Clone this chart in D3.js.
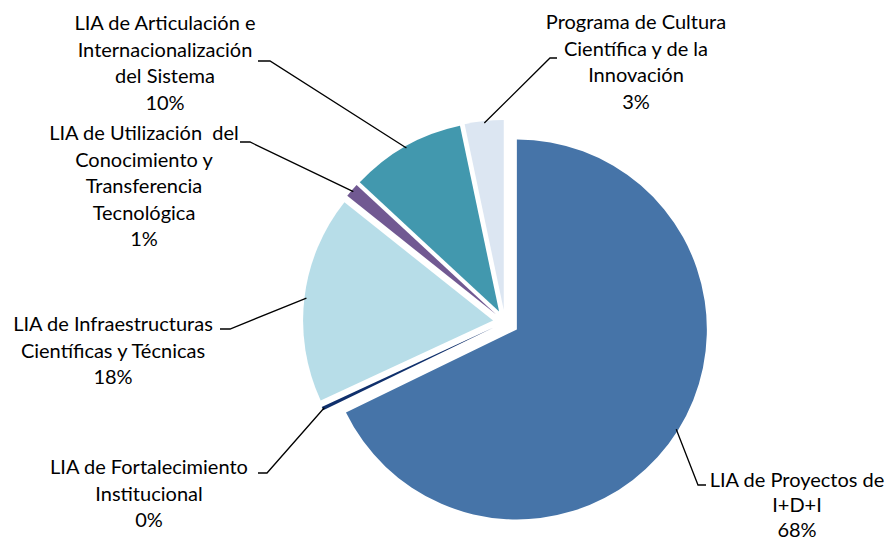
<!DOCTYPE html>
<html>
<head>
<meta charset="utf-8">
<script src="https://cdn.jsdelivr.net/npm/d3@7"></script>
<style>
  body { margin: 0; background: #fff; }
  text { font-family: Lato, "Open Sans", sans-serif; font-size: 20px; fill: #000; white-space: pre; }
</style>
</head>
<body>
<div id="chart"></div>
<script>
var width = 889, height = 543;

// data (clockwise from 12 o'clock)
var categories = [
  "LIA de Proyectos de I+D+I",
  "LIA de Fortalecimiento Institucional",
  "LIA de Infraestructuras Científicas y Técnicas",
  "LIA de Utilización  del Conocimiento y Transferencia Tecnológica",
  "LIA de Articulación e Internacionalización del Sistema",
  "Programa de Cultura Científica y de la Innovación"
];
var values = [67.8, 0.3, 17.6, 1.2, 9.8, 3.3];
var labelLines = [
  ["LIA de Proyectos de", "I+D+I"],
  ["LIA de Fortalecimiento", "Institucional"],
  ["LIA de Infraestructuras", "Científicas y Técnicas"],
  ["LIA de Utilización  del", "Conocimiento y", "Transferencia", "Tecnológica"],
  ["LIA de Articulación e", "Internacionalización", "del Sistema"],
  ["Programa de Cultura", "Científica y de la", "Innovación"]
];
var colors = ["#4674a8", "#10306c", "#b7dde8", "#715992", "#4298ae", "#dce6f2"];

// layout
var cx = 505, cy = 322, radius = 190;
var explode = [14, 12, 12, 12, 12, 12];
var lineH = 26.5;
// label block centre x, first baseline y, line step, elbow point, end of short horizontal
var labelPos = [
  {x: 797, y: 487, step: 25, elbow: [698, 485], end: [706, 485]},
  {x: 149, y: 474, step: lineH, elbow: [267, 473], end: [258, 473]},
  {x: 113, y: 331, step: lineH, elbow: [230, 329], end: [220, 329]},
  {x: 144, y: 140, step: lineH, elbow: [250, 142], end: [240, 142]},
  {x: 165, y: 30,  step: lineH, elbow: [270, 61],  end: [258, 61]},
  {x: 636, y: 29,  step: lineH, elbow: [550, 58],  end: [557, 58]}
];

var svg = d3.select("#chart")
  .append("svg")
  .attr("width", width)
  .attr("height", height);

var pie = d3.pie().sort(null).value(function(d){ return d; });
var arcs = pie(values);

var arc = d3.arc().innerRadius(0).outerRadius(radius);

function dir(a) { return [Math.sin(a), -Math.cos(a)]; }

var slices = svg.append("g").attr("transform", "translate(" + cx + "," + cy + ")");

slices.selectAll("path")
  .data(arcs)
  .enter().append("path")
  .attr("d", arc)
  .attr("fill", function(d, i){ return colors[i]; })
  .attr("transform", function(d, i){
    var m = dir((d.startAngle + d.endAngle) / 2);
    return "translate(" + (m[0] * explode[i]) + "," + (m[1] * explode[i]) + ")";
  });

// leader lines
var leaders = svg.append("g");
arcs.forEach(function(d, i){
  var m = dir((d.startAngle + d.endAngle) / 2);
  var sx = cx + m[0] * (explode[i] + radius - 2);
  var sy = cy + m[1] * (explode[i] + radius - 2);
  var p = labelPos[i];
  leaders.append("path")
    .attr("d", d3.line()([[sx, sy], p.elbow, p.end]))
    .attr("fill", "none")
    .attr("stroke", "#000")
    .attr("stroke-width", 1.3);
});

// labels
var labels = svg.append("g");
arcs.forEach(function(d, i){
  var p = labelPos[i];
  var lines = labelLines[i].concat([Math.round(values[i]) + "%"]);
  var t = labels.append("text")
    .attr("text-anchor", "middle");
  lines.forEach(function(s, j){
    t.append("tspan")
      .attr("x", p.x)
      .attr("y", p.y + j * p.step)
      .text(s);
  });
});
</script>
</body>
</html>
